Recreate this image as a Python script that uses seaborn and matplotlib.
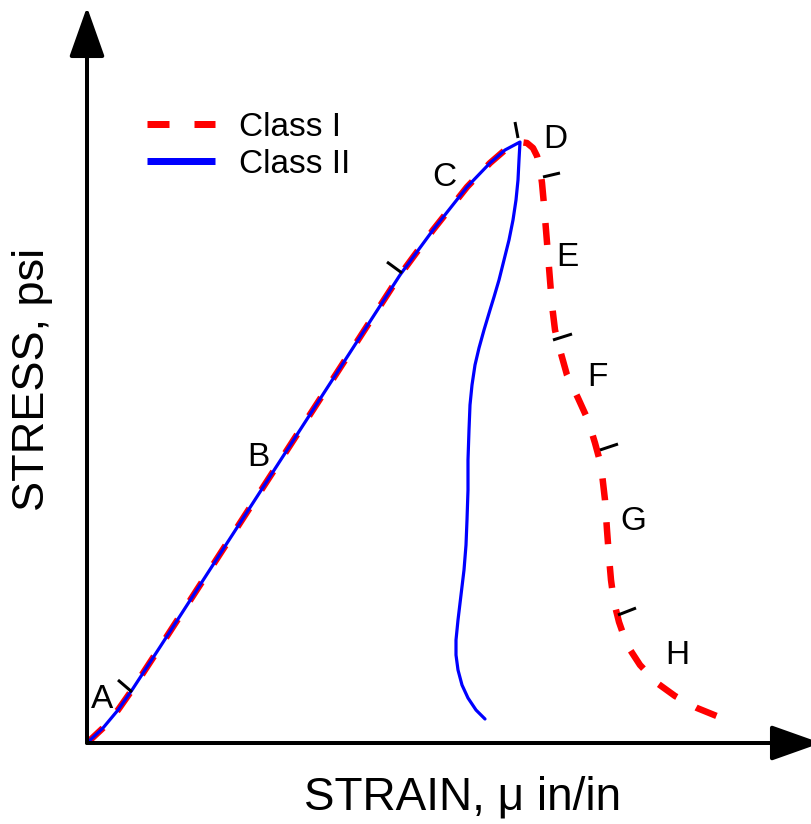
import numpy as np
import pandas as pd
import seaborn as sns
import matplotlib
matplotlib.use("Agg")
import matplotlib.pyplot as plt
from matplotlib.lines import Line2D

# Shared ascending (pre-peak) branch: strain vs. stress, relative units
rise_strain = [0, 16, 31, 45, 73, 113, 173, 233, 273, 313, 346, 380, 403, 418, 433]
rise_stress = [0, 15, 33, 53, 96, 158, 251, 344, 406, 468, 513, 556, 580, 593, 601]

# Class I post-peak branch (stable, continues to larger strain)
c1_strain = [433, 440, 446, 450, 453, 455, 457, 459, 461, 463, 465, 468, 473, 480,
             491, 501, 508, 514, 518, 520, 522, 524, 527, 532, 540, 553, 570, 588,
             610, 637]
c1_stress = [601, 600, 595, 587, 575, 560, 538, 513, 488, 463, 438, 413, 393, 368,
             345, 323, 300, 278, 243, 213, 186, 163, 141, 121, 98, 78, 60, 47,
             35, 24]

# Class II post-peak branch (snap-back toward smaller strain)
c2_strain = [433, 432, 431, 429, 426, 422, 417, 412, 407, 403, 397, 392, 388, 385,
             383, 382, 381, 381, 380, 379, 377, 374, 371, 369, 369, 371, 375, 381,
             389, 398]
c2_stress = [601, 583, 563, 543, 523, 503, 483, 463, 446, 433, 413, 395, 378, 358,
             338, 313, 283, 253, 223, 198, 173, 148, 123, 103, 88, 73, 58, 45,
             33, 24]

# Segment boundary marks along the curve (start/end of each short stroke)
mark_x0 = [31, 300, 428, 456, 466, 513, 531]
mark_y0 = [63, 481, 621, 566, 403, 293, 128]
mark_x1 = [45, 315, 431, 473, 485, 531, 549]
mark_y1 = [51, 470, 605, 570, 409, 299, 135]

# Stage labels and their anchor points
stage_labels = ["A", "B", "C", "D", "E", "F", "G", "H"]
stage_x = [15, 171, 357, 468, 480, 510, 546, 590]
stage_y = [43, 285, 565, 604, 486, 366, 221, 88]

legend_labels = ["Class I", "Class II"]

sns.set_theme(style="white")
plt.rcParams["font.family"] = ["Liberation Sans", "DejaVu Sans"]
plt.rcParams["text.color"] = "black"

W, H = 812, 824
fig = plt.figure(figsize=(W / 100, H / 100), dpi=100)
ox, oy = 87, 743
ax = fig.add_axes([ox / W, (H - oy) / H, (W - ox) / W, oy / H])
ax.set_xlim(0, W - ox)
ax.set_ylim(0, oy)
ax.set_axis_off()

red = "#ff0000"
blue = "#0000ff"
px = 72 / 100  # one pixel in points

class1 = pd.DataFrame({
    "strain": rise_strain + c1_strain[1:],
    "stress": rise_stress + c1_stress[1:],
})
class2 = pd.DataFrame({
    "strain": rise_strain + c2_strain[1:],
    "stress": rise_stress + c2_stress[1:],
})

lw_red = 6.5 * px
sns.lineplot(data=class1, x="strain", y="stress", sort=False, estimator=None,
             ax=ax, color=red, linewidth=lw_red,
             linestyle=(0, (22 * px / lw_red, 22 * px / lw_red)),
             solid_capstyle="butt", dash_capstyle="butt",
             solid_joinstyle="round", dash_joinstyle="round", zorder=2)
sns.lineplot(data=class2, x="strain", y="stress", sort=False, estimator=None,
             ax=ax, color=blue, linewidth=3.2 * px,
             solid_joinstyle="round", zorder=3)

for x0, y0, x1, y1 in zip(mark_x0, mark_y0, mark_x1, mark_y1):
    ax.plot([x0, x1], [y0, y1], color="black", lw=3 * px,
            solid_capstyle="butt", zorder=4)

for lab, x, y in zip(stage_labels, stage_x, stage_y):
    ax.text(x, y, lab, fontsize=24, ha="center", va="center", color="black")

# Axes drawn as arrows from the origin
arrow_kw = dict(arrowstyle="-|>,head_length=1.55,head_width=0.55",
                mutation_scale=20, lw=4 * px, color="black",
                shrinkA=0, shrinkB=0)
ax.annotate("", xy=(0, 736), xytext=(0, 0), arrowprops=arrow_kw,
            annotation_clip=False)
ax.annotate("", xy=(734, 0), xytext=(0, 0), arrowprops=arrow_kw,
            annotation_clip=False)

fig.text(463 / W, 1 - 797 / H, "STRAIN, \u03bc in/in", fontsize=33,
         ha="center", va="center", color="black")
fig.text(33 / W, 1 - 379 / H, "STRESS, psi", fontsize=32.5, rotation=90,
         ha="center", va="center", color="black")

lw_leg = 7 * px
handles = [
    Line2D([], [], color=red, lw=lw_leg,
           linestyle=(0, (22 * px / lw_leg, 25 * px / lw_leg)),
           dash_capstyle="butt"),
    Line2D([], [], color=blue, lw=lw_leg, solid_capstyle="butt"),
]
leg = ax.legend(handles, legend_labels, loc="upper left",
                bbox_to_anchor=(147 / W, 1 - 112 / H),
                bbox_transform=fig.transFigure,
                frameon=False, fontsize=24, handlelength=2.05,
                handletextpad=0.7, labelspacing=0.17, borderpad=0,
                borderaxespad=0)
for t in leg.get_texts():
    t.set_color("black")

fig.savefig("out.png", dpi=100)
